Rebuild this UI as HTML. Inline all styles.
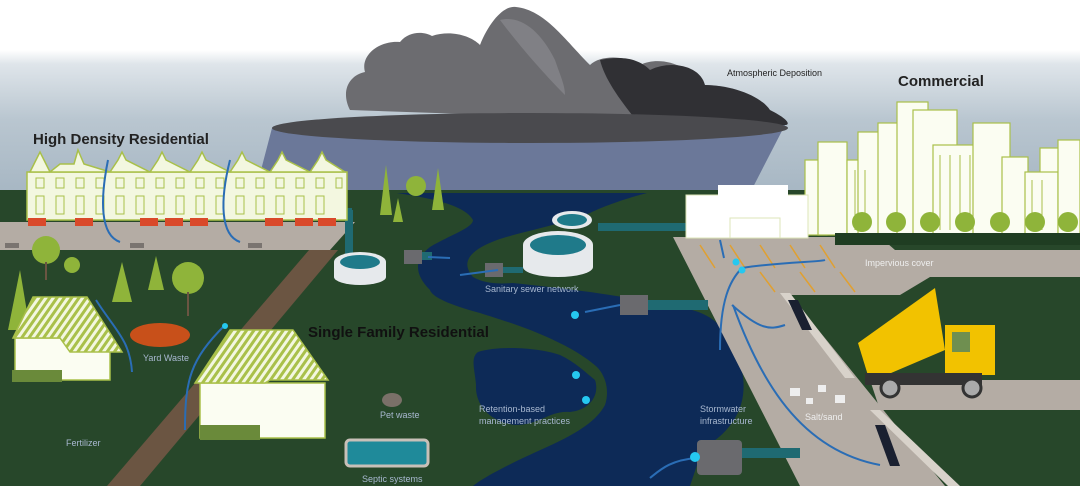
<!DOCTYPE html>
<html><head><meta charset="utf-8"><style>
html,body{margin:0;padding:0;width:1080px;height:486px;overflow:hidden;background:#fff}
svg{display:block}
text{font-family:"Liberation Sans",sans-serif}
</style></head><body>
<svg width="1080" height="486" viewBox="0 0 1080 486">
<defs>
<linearGradient id="sky" x1="0" y1="0" x2="0" y2="1">
<stop offset="0" stop-color="#ffffff"/><stop offset="0.25" stop-color="#ffffff"/><stop offset="0.32" stop-color="#dfe5ea"/><stop offset="0.6" stop-color="#b9c6d0"/><stop offset="1" stop-color="#a5b5c2"/></linearGradient>
<pattern id="roof" width="6" height="6" patternUnits="userSpaceOnUse" patternTransform="rotate(35)"><rect width="6" height="6" fill="#f3f7e0"/><rect width="3" height="6" fill="#a9c04a"/></pattern>
</defs>
<rect width="1080" height="200" fill="url(#sky)"/>
<polygon points="272,128 785,125 750,193 255,193" fill="#6b7899"/>
<!-- cloud -->
<path d="M350,110 C340,90 350,75 365,72 C360,55 380,40 400,42 C410,30 425,32 432,36 C450,30 470,35 480,45 C490,20 505,5 516,7 C545,10 565,40 590,65 C600,55 625,55 640,65 C660,55 690,65 700,85 C725,85 745,90 750,105 C770,115 790,120 785,125 Z" fill="#6c6c70"/>
<path d="M600,60 C625,55 640,60 650,70 C670,60 700,65 705,85 C730,85 760,95 770,110 C790,120 790,125 785,125 L640,125 C620,100 605,80 600,60Z" fill="#303034"/>
<path d="M500,20 C520,15 540,30 555,60 C560,75 565,85 565,95 C540,70 515,40 500,20Z" fill="#808085"/>
<ellipse cx="530" cy="128" rx="258" ry="15" fill="#4a4a4e"/>
<!-- ground -->
<rect x="0" y="190" width="1080" height="296" fill="#27472a"/>
<!-- river -->
<path d="M397,193 L647,193 C620,200 600,208 590,213 C560,225 520,232 497,240 C470,250 460,262 473,277 C485,284 500,284 513,283 C560,288 600,292 680,307 C710,313 720,323 730,340 C742,360 745,380 743,395 C740,420 720,440 703,447 L690,486 L473,486 C480,480 500,468 547,447 C580,432 597,420 605,405 C610,390 605,375 597,367 C580,352 560,343 547,337 C520,325 495,318 480,313 C450,305 432,297 430,290 C415,275 413,260 430,247 C450,235 473,228 473,220 C465,205 430,198 397,193Z" fill="#0d2a57"/>
<path d="M478,352 C500,345 540,348 560,355 C575,362 585,372 595,380 C600,395 590,410 570,412 C550,410 540,425 515,425 C490,422 475,405 476,385 C475,370 470,358 478,352Z" fill="#0d2a57"/>
<!-- top left road -->
<polygon points="0,222 355,222 330,250 0,250" fill="#b4aca4"/>
<polygon points="309,250 338,250 140,486 107,486" fill="#6b5542"/>
<g fill="#7a7470"><rect x="5" y="243" width="14" height="5"/><rect x="130" y="243" width="14" height="5"/><rect x="248" y="243" width="14" height="5"/></g>
<!-- right road -->
<polygon points="673,237 880,237 895,250 1080,250 1080,277 930,277 900,295 790,295 945,486 800,486" fill="#b4aca4"/>
<polygon points="870,380 1080,380 1080,410 880,410" fill="#b4aca4"/>
<g stroke="#e0a030" stroke-width="1.5"><line x1="700" y1="245" x2="715" y2="268"/><line x1="730" y1="245" x2="745" y2="268"/><line x1="760" y1="245" x2="775" y2="268"/><line x1="790" y1="245" x2="805" y2="268"/><line x1="820" y1="245" x2="835" y2="268"/><line x1="760" y1="272" x2="775" y2="292"/><line x1="800" y1="272" x2="815" y2="292"/><line x1="840" y1="272" x2="855" y2="292"/></g>
<polygon points="780,293 790,293 855,378 845,378" fill="#d8d2ca"/>
<polygon points="788,300 798,300 812,330 802,330" fill="#1a2030"/>
<polygon points="870,410 880,410 960,486 948,486" fill="#d8d2ca"/>
<polygon points="875,425 885,425 900,466 890,466" fill="#1a2030"/>
<!-- pipes -->
<g fill="#1f6a72"><rect x="345" y="210" width="8" height="45"/><rect x="330" y="208" width="22" height="8"/><rect x="598" y="223" width="90" height="8"/><rect x="648" y="300" width="60" height="10"/><rect x="740" y="448" width="60" height="10"/><rect x="420" y="252" width="12" height="8"/><rect x="503" y="267" width="20" height="6"/></g>
<!-- row houses -->
<g fill="#f3f7e0" stroke="#a9c04a" stroke-width="1.5">
<rect x="27" y="172" width="320" height="48"/>
<path d="M30,172 L36,160 L40,152 L44,160 L50,172 L60,164 L74,164 L78,150 L84,164 L110,172 L118,160 L122,152 L126,160 L150,172 L158,160 L162,152 L166,160 L190,172 L198,160 L202,152 L206,160 L230,172 L238,160 L242,152 L246,160 L270,172 L278,160 L282,152 L286,160 L310,172 L318,160 L322,152 L326,160 L345,172Z"/>
</g>
<g stroke="#a9c04a" stroke-width="1" fill="none">
<path d="M36,178h8v10h-8zM56,178h8v10h-8zM76,178h8v10h-8zM96,178h8v10h-8zM116,178h8v10h-8zM136,178h8v10h-8zM156,178h8v10h-8zM176,178h8v10h-8zM196,178h8v10h-8zM216,178h8v10h-8zM236,178h8v10h-8zM256,178h8v10h-8zM276,178h8v10h-8zM296,178h8v10h-8zM316,178h8v10h-8zM336,178h6v10h-6z"/>
<path d="M36,196h8v18h-8zM56,196h8v18h-8zM76,196h8v18h-8zM96,196h8v18h-8zM116,196h8v18h-8zM136,196h8v18h-8zM156,196h8v18h-8zM176,196h8v18h-8zM196,196h8v18h-8zM216,196h8v18h-8zM236,196h8v18h-8zM256,196h8v18h-8zM276,196h8v18h-8zM296,196h8v18h-8zM316,196h8v18h-8z"/>
</g>
<g fill="#d9492a"><rect x="28" y="218" width="18" height="8"/><rect x="75" y="218" width="18" height="8"/><rect x="140" y="218" width="18" height="8"/><rect x="165" y="218" width="18" height="8"/><rect x="190" y="218" width="18" height="8"/><rect x="265" y="218" width="18" height="8"/><rect x="295" y="218" width="18" height="8"/><rect x="318" y="218" width="18" height="8"/></g>
<!-- trees -->
<g fill="#8fb43a"><circle cx="46" cy="250" r="14"/><circle cx="72" cy="265" r="8"/><circle cx="188" cy="278" r="16"/><circle cx="416" cy="186" r="10"/>
<polygon points="8,330 20,270 30,330"/><polygon points="112,302 122,262 132,302"/><polygon points="148,290 156,256 164,290"/><polygon points="380,215 386,165 392,215"/><polygon points="393,222 398,198 403,222"/><polygon points="432,210 438,168 444,210"/></g>
<g stroke="#6b5542" stroke-width="2"><line x1="46" y1="262" x2="46" y2="280"/><line x1="188" y1="292" x2="188" y2="316"/></g>
<!-- commercial -->
<g fill="#fbfdf2" stroke="#a9c04a" stroke-width="1.2">
<rect x="805" y="160" width="22" height="75"/><rect x="818" y="142" width="29" height="93"/><rect x="847" y="160" width="33" height="75"/><rect x="858" y="132" width="22" height="103"/><rect x="878" y="123" width="25" height="112"/><rect x="897" y="102" width="31" height="133"/><rect x="913" y="110" width="44" height="125"/><rect x="933" y="145" width="45" height="90"/><rect x="973" y="123" width="37" height="112"/><rect x="1002" y="157" width="26" height="78"/><rect x="1040" y="148" width="27" height="87"/><rect x="1025" y="172" width="33" height="63"/><rect x="1058" y="140" width="22" height="95"/>
</g>
<g stroke="#a9c04a" stroke-width="1"><line x1="940" y1="155" x2="940" y2="230"/><line x1="950" y1="155" x2="950" y2="230"/><line x1="960" y1="155" x2="960" y2="230"/><line x1="970" y1="155" x2="970" y2="230"/><line x1="855" y1="170" x2="855" y2="230"/><line x1="865" y1="170" x2="865" y2="230"/><line x1="1032" y1="180" x2="1032" y2="230"/><line x1="1042" y1="180" x2="1042" y2="230"/></g>
<rect x="835" y="233" width="245" height="12" fill="#1f3d22"/>
<g fill="#8fb43a"><circle cx="862" cy="222" r="10"/><circle cx="896" cy="222" r="10"/><circle cx="930" cy="222" r="10"/><circle cx="965" cy="222" r="10"/><circle cx="1000" cy="222" r="10"/><circle cx="1035" cy="222" r="10"/><circle cx="1068" cy="222" r="10"/></g>
<rect x="686" y="195" width="122" height="43" fill="#fff" stroke="#dde6b8"/>
<rect x="718" y="185" width="70" height="12" fill="#fff"/>
<rect x="730" y="218" width="50" height="20" fill="none" stroke="#dde6b8"/>
<!-- houses -->
<g stroke="#a9c04a" stroke-width="1.5">
<rect x="15" y="338" width="95" height="42" fill="#fbfdf2"/><polygon points="13,338 33,297 87,297 122,352 70,352 60,338" fill="url(#roof)"/>
<rect x="200" y="383" width="125" height="55" fill="#fbfdf2"/><polygon points="195,383 230,330 293,330 328,380 270,380 265,383" fill="url(#roof)"/>
</g>
<g fill="#6a8a3a"><rect x="12" y="370" width="50" height="12"/><rect x="200" y="425" width="60" height="15"/></g>
<!-- treatment plants -->
<g><ellipse cx="360" cy="262" rx="26" ry="10" fill="#e6e9ec"/><rect x="334" y="262" width="52" height="15" fill="#e6e9ec"/><ellipse cx="360" cy="277" rx="26" ry="8" fill="#e6e9ec"/><ellipse cx="360" cy="262" rx="20" ry="7" fill="#1f7a8a"/>
<ellipse cx="572" cy="220" rx="20" ry="9" fill="#e6e9ec"/><ellipse cx="572" cy="220" rx="15" ry="6" fill="#1f7a8a"/>
<ellipse cx="558" cy="245" rx="35" ry="14" fill="#e6e9ec"/><rect x="523" y="245" width="70" height="22" fill="#e6e9ec"/><ellipse cx="558" cy="267" rx="35" ry="10" fill="#e6e9ec"/><ellipse cx="558" cy="245" rx="28" ry="10" fill="#1f7a8a"/></g>
<g fill="#6a6a6e"><rect x="404" y="250" width="18" height="14"/><rect x="485" y="263" width="18" height="14"/><rect x="620" y="295" width="28" height="20"/><rect x="697" y="440" width="45" height="35" rx="4"/></g>
<rect x="346" y="440" width="82" height="26" rx="4" fill="#1f8a9a" stroke="#c8c0b8" stroke-width="3"/>
<!-- flows -->
<g stroke="#2a6db5" stroke-width="2" fill="none"><path d="M108,160 C100,200 100,235 120,242"/><path d="M230,160 C220,200 220,235 240,242"/><path d="M96,300 C115,330 130,340 132,372"/><path d="M225,325 C190,360 185,380 185,430"/><path d="M720,240 L724,258 M742,268 C730,280 720,300 720,350 M742,268 C780,262 820,262 825,260 M732,305 C760,330 770,330 785,325 M733,305 C760,380 800,450 880,465"/><path d="M428,257 L450,258 M498,270 L460,275 M620,305 L585,312 M697,458 C670,460 660,470 650,478"/></g>
<g fill="#25c8f0"><circle cx="225" cy="326" r="3"/><circle cx="736" cy="262" r="3.5"/><circle cx="742" cy="270" r="3.5"/><circle cx="575" cy="315" r="4"/><circle cx="576" cy="375" r="4"/><circle cx="586" cy="400" r="4"/><circle cx="695" cy="457" r="5"/></g>
<!-- truck -->
<polygon points="858,343 935,288 945,350 870,382" fill="#f2c200"/>
<rect x="945" y="325" width="50" height="50" fill="#f2c200"/>
<rect x="952" y="332" width="18" height="20" fill="#6f8f50"/>
<rect x="865" y="373" width="117" height="12" fill="#333"/>
<circle cx="890" cy="388" r="9" fill="#aaa" stroke="#333" stroke-width="3"/><circle cx="972" cy="388" r="9" fill="#aaa" stroke="#333" stroke-width="3"/>
<g fill="#eee"><rect x="790" y="388" width="10" height="8"/><rect x="818" y="385" width="8" height="7"/><rect x="835" y="395" width="10" height="8"/><rect x="806" y="398" width="7" height="6"/></g>
<!-- yard waste & dog -->
<ellipse cx="160" cy="335" rx="30" ry="12" fill="#c8501a"/>
<ellipse cx="392" cy="400" rx="10" ry="7" fill="#7a7068"/>
<!-- labels -->
<text x="33" y="144" font-size="15" font-weight="bold" fill="#222">High Density Residential</text>
<text x="898" y="86" font-size="15" font-weight="bold" fill="#222">Commercial</text>
<text x="727" y="76" font-size="9" fill="#222">Atmospheric Deposition</text>
<text x="308" y="337" font-size="15" font-weight="bold" fill="#111">Single Family Residential</text>
<g font-size="9" fill="#a8b8d0"><text x="485" y="292">Sanitary sewer network</text><text x="143" y="361">Yard Waste</text><text x="66" y="446">Fertilizer</text><text x="380" y="418">Pet waste</text><text x="362" y="482">Septic systems</text><text x="479" y="412">Retention-based</text><text x="479" y="424">management practices</text><text x="700" y="412">Stormwater</text><text x="700" y="424">infrastructure</text></g>
<g font-size="9" fill="#eee"><text x="865" y="266">Impervious cover</text><text x="805" y="420">Salt/sand</text></g>
</svg>
</body></html>
